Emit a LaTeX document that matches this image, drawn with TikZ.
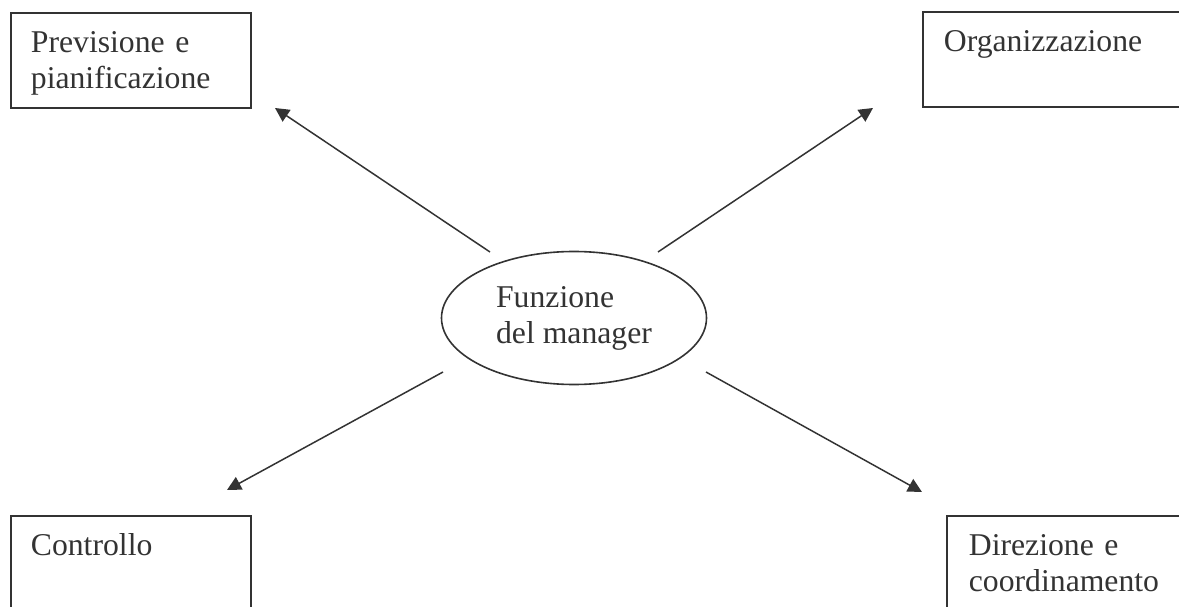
\documentclass[tikz,border=0pt]{standalone}
\usepackage{fontspec}
\setmainfont{Liberation Serif}
\usetikzlibrary{arrows.meta,shapes.geometric}
\definecolor{ink}{gray}{0.2}
\tikzset{
  every node/.style={text=ink, font=\fontsize{31.7}{36}\selectfont},
  box/.style={draw=ink, line width=1.8pt, anchor=north west, inner ysep=0pt,
    align=left, text height=40pt, text depth=58pt},
  core/.style={draw=ink, line width=1.6pt, ellipse, minimum width=265pt,
    minimum height=133pt, inner sep=0pt, align=left},
  link/.style={draw=ink, line width=1.5pt, -{Triangle[length=14pt,width=14pt]}}
}
\begin{document}
\begin{tikzpicture}[x=1pt,y=-1pt]
      \useasboundingbox (0,0) rectangle (1179,607);
      \node[box, inner xsep=20pt, text width=200pt, text depth=55pt] (pp) at (10,12) {Previsione e\\pianificazione};
      \node[box, inner xsep=21pt, text width=300pt, text depth=55pt] (org) at (922,11) {Organizzazione};
      \node[box, inner xsep=20pt, text width=200pt] (ctrl) at (10,515) {Controllo};
      \node[box, inner xsep=22pt, text width=300pt] (dir) at (946,515) {Direzione e\\coordinamento};
      \node[core] (fn) at (574,318) {Funzione\\del manager};
      \coordinate (fn-pp) at (490,252);
      \coordinate (fn-org) at (658,252);
      \coordinate (fn-ctrl) at (443,372);
      \coordinate (fn-dir) at (706,372);
      \coordinate (pp-in) at (275,108);
      \coordinate (org-in) at (873,108);
      \coordinate (ctrl-in) at (227,490);
      \coordinate (dir-in) at (922,492);
      \begin{scope}[link]
        \draw (fn-pp) to (pp-in);
        \draw (fn-org) to (org-in);
        \draw (fn-ctrl) to (ctrl-in);
        \draw (fn-dir) to (dir-in);
      \end{scope}
    \end{tikzpicture}
\end{document}
